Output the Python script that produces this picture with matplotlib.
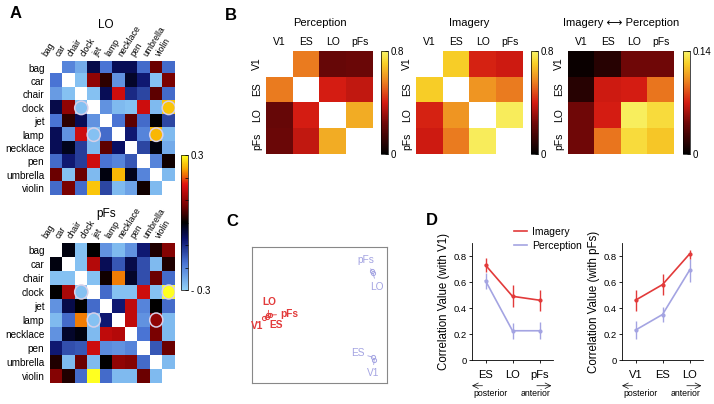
import numpy as np
import matplotlib
matplotlib.use("Agg")
import matplotlib.pyplot as plt
from matplotlib.colors import LinearSegmentedColormap
from matplotlib.patches import Ellipse
from matplotlib.lines import Line2D

plt.rcParams['font.family'] = ['Liberation Sans', 'DejaVu Sans']

# --- data ---
objects = ["bag", "car", "chair", "clock", "jet", "lamp", "necklace", "pen", "umbrella", "violin"]

lo_corr = np.array([
    [np.nan, -0.20, -0.25, -0.05, -0.18, -0.06, -0.06, -0.17, 0.07, -0.17],
    [-0.18, np.nan, -0.28, 0.10, 0.03, -0.22, -0.03, -0.08, -0.28, 0.08],
    [-0.23, -0.28, np.nan, -0.28, -0.06, 0.15, -0.10, -0.13, 0.06, -0.17],
    [-0.05, 0.10, -0.28, np.nan, -0.22, -0.27, -0.28, 0.15, -0.27, 0.26],
    [-0.18, 0.03, -0.06, -0.22, np.nan, -0.18, 0.06, -0.17, 0.00, -0.13],
    [-0.06, -0.22, 0.15, -0.28, -0.17, np.nan, -0.08, -0.20, 0.25, -0.27],
    [-0.06, -0.02, -0.12, -0.27, 0.06, -0.07, np.nan, -0.13, -0.01, -0.25],
    [-0.17, -0.08, -0.12, 0.15, -0.18, -0.20, -0.15, np.nan, -0.20, 0.01],
    [0.07, -0.28, 0.07, -0.27, -0.01, 0.25, -0.02, -0.20, np.nan, -0.27],
    [-0.17, 0.08, -0.17, 0.26, -0.13, -0.27, -0.24, 0.01, -0.27, np.nan],
])

pfs_corr = np.array([
    [np.nan, -0.01, -0.28, 0.00, -0.22, -0.27, -0.22, -0.08, 0.02, 0.09],
    [-0.01, np.nan, -0.28, 0.13, -0.06, -0.15, -0.05, -0.14, -0.27, 0.02],
    [-0.28, -0.28, np.nan, -0.28, 0.01, 0.22, -0.03, -0.14, 0.07, -0.17],
    [0.00, 0.12, -0.28, np.nan, -0.17, -0.28, -0.28, 0.15, -0.28, 0.30],
    [-0.22, -0.05, 0.00, -0.17, np.nan, -0.08, 0.14, -0.20, 0.00, -0.17],
    [-0.27, -0.17, 0.22, -0.28, -0.08, np.nan, 0.14, -0.22, 0.10, -0.27],
    [-0.22, -0.03, -0.01, -0.27, 0.14, 0.13, np.nan, -0.18, 0.08, -0.27],
    [-0.08, -0.14, -0.15, 0.15, -0.21, -0.22, -0.20, np.nan, -0.15, 0.07],
    [0.02, -0.27, 0.07, -0.27, 0.00, 0.10, 0.09, -0.17, np.nan, -0.27],
    [0.09, 0.02, -0.17, 0.30, -0.17, -0.27, -0.27, 0.07, -0.27, np.nan],
])

# circled cells (row, column)
circled = [("clock", "chair"), ("clock", "violin"), ("lamp", "clock"), ("lamp", "umbrella")]

rois = ["V1", "ES", "LO", "pFs"]
perception_mat = np.array([
    [np.nan, 0.55, 0.22, 0.23],
    [0.55, np.nan, 0.40, 0.37],
    [0.22, 0.40, np.nan, 0.64],
    [0.23, 0.37, 0.64, np.nan],
])
imagery_mat = np.array([
    [np.nan, 0.70, 0.41, 0.39],
    [0.70, np.nan, 0.60, 0.55],
    [0.41, 0.60, np.nan, 0.78],
    [0.39, 0.55, 0.78, np.nan],
])
cross_mat = np.array([
    [0.004, 0.015, 0.042, 0.042],
    [0.015, 0.068, 0.07, 0.095],
    [0.042, 0.07, 0.137, 0.128],
    [0.042, 0.095, 0.128, 0.12],
])

# MDS coordinates (panel C), order V1, ES, LO, pFs
mds_img_x = [0.09, 0.11, 0.12, 0.135]
mds_img_y = [0.478, 0.485, 0.50, 0.50]
mds_per_x = [0.905, 0.895, 0.895, 0.888]
mds_per_y = [0.17, 0.19, 0.81, 0.825]

# panel D
d1_labels = ["ES", "LO", "pFs"]
d1_img = [0.73, 0.49, 0.46]
d1_img_err = [0.055, 0.085, 0.082]
d1_per = [0.61, 0.225, 0.225]
d1_per_err = [0.06, 0.062, 0.065]

d2_labels = ["V1", "ES", "LO"]
d2_img = [0.46, 0.58, 0.815]
d2_img_err = [0.08, 0.08, 0.035]
d2_per = [0.23, 0.35, 0.69]
d2_per_err = [0.07, 0.06, 0.09]

red = "#e23a3a"
lav = "#a4a4e2"

cmap_a = LinearSegmentedColormap.from_list("bk", [
    (0.0, "#90d0f8"), (0.2, "#4a74d4"), (0.38, "#0a1068"), (0.5, "#000000"),
    (0.62, "#700000"), (0.78, "#e01010"), (0.9, "#f8a800"), (1.0, "#ffff20")])
cmap_b = LinearSegmentedColormap.from_list("hotish", [
    (0.0, "#000000"), (0.3, "#700808"), (0.5, "#d41c12"), (0.7, "#ec8020"),
    (0.88, "#f8d028"), (1.0, "#f8f468")])

W, H = 714, 404
fig = plt.figure(figsize=(W / 100, H / 100), dpi=100)


def px_axes(x0, y0, x1, y1):
    return fig.add_axes([x0 / W, 1 - y1 / H, (x1 - x0) / W, (y1 - y0) / H])


def ftext(x, y, s, **kw):
    fig.text(x / W, 1 - y / H, s, **kw)


# --- Panel A ---
ftext(16, 13, "A", fontsize=12, fontweight="bold", ha="center", va="center")
for mat, title, box, ty in [(lo_corr, "LO", (50, 61, 175, 195), 25),
                            (pfs_corr, "pFs", (50, 243, 175, 383), 214)]:
    ax = px_axes(*box)
    im = ax.imshow(mat, cmap=cmap_a, vmin=-0.3, vmax=0.3, aspect="auto")
    ax.set_yticks(range(len(objects)))
    ax.set_yticklabels(objects, fontsize=7.2)
    ax.set_xticks([])
    ax.tick_params(length=0, pad=4)
    for j, name in enumerate(objects):
        ax.text(j - 0.6, -0.7, name, rotation=58, ha="left", va="bottom",
                rotation_mode="anchor", fontsize=6.3)
    for s in ax.spines.values():
        s.set_visible(False)
    for r, c in circled:
        ax.add_patch(Ellipse((objects.index(c), objects.index(r)), 1.05, 1.0,
                             fill=False, ec="#d6cfe8", lw=1.1))
    ftext(106, ty, title, fontsize=8.5, ha="center", va="center")

cax = px_axes(181, 155, 188, 290)
cb = fig.colorbar(im, cax=cax, ticks=np.linspace(-0.3, 0.3, 7))
cb.ax.set_yticklabels(["- 0.3", "", "", "", "", "", "0.3"], fontsize=7)
cb.ax.tick_params(length=2, width=0.5, direction="in", pad=2)
cb.outline.set_linewidth(0.5)

# --- Panel B ---
ftext(231, 15, "B", fontsize=12, fontweight="bold", ha="center", va="center")
b_specs = [
    (perception_mat, "Perception", 0.8, (266, 373), (381, 388)),
    (imagery_mat, "Imagery", 0.8, (416, 523), (531, 538)),
    (cross_mat, "Imagery \u27f7 Perception", 0.14, (568, 674), (683, 690)),
]
for mat, title, vmax, (x0, x1), (c0, c1) in b_specs:
    ax = px_axes(x0, 51, x1, 154)
    im = ax.imshow(mat, cmap=cmap_b, vmin=0, vmax=vmax, aspect="auto")
    ax.xaxis.tick_top()
    ax.set_xticks(range(4))
    ax.set_xticklabels(rois, fontsize=7.5)
    ax.set_yticks(range(4))
    ax.set_yticklabels(rois, fontsize=7.5, rotation=90, va="center")
    ax.tick_params(length=0, pad=3)
    for s in ax.spines.values():
        s.set_visible(False)
    ftext((x0 + x1) / 2, 23, title, fontsize=8, ha="center", va="center")
    cax = px_axes(c0, 51, c1, 154)
    cb = fig.colorbar(im, cax=cax, ticks=[0, vmax])
    cb.ax.set_yticklabels(["0", f"{vmax:g}"], fontsize=7)
    cb.ax.tick_params(length=2, width=0.5, direction="in", pad=2)
    cb.outline.set_linewidth(0.5)

# --- Panel C ---
ftext(232, 221, "C", fontsize=12, fontweight="bold", ha="center", va="center")
axc = px_axes(252, 247, 387, 383)
axc.set_xlim(0, 1)
axc.set_ylim(0, 1)
axc.set_xticks([])
axc.set_yticks([])
for s in axc.spines.values():
    s.set_color("#888888")
    s.set_linewidth(0.8)

# label offsets in points, order V1, ES, LO, pFs
img_offsets = [(-5, -6), (7, -5.5), (0.5, 9.5), (13.5, 0.5)]
per_offsets = [(-1, -9.5), (-11, 3), (3, -10), (-4.5, 7.5)]
for xs, ys, offs, col, wt in [(mds_img_x, mds_img_y, img_offsets, red, "bold"),
                              (mds_per_x, mds_per_y, per_offsets, lav, "normal")]:
    axc.plot(xs, ys, "o", ms=3, mfc="none", mec=col, mew=0.7, ls="none")
    for name, x, y, (dx, dy) in zip(rois, xs, ys, offs):
        axc.annotate(name, (x, y), xytext=(dx, dy), textcoords="offset points",
                     fontsize=7.3, color=col, ha="center", va="center",
                     fontweight=wt,
                     arrowprops=dict(arrowstyle="-", color=col, lw=0.6,
                                     shrinkA=0.5, shrinkB=0))

# --- Panel D ---
ftext(432, 220, "D", fontsize=12, fontweight="bold", ha="center", va="center")
for x0, labels, img, img_err, per, per_err, ylab in [
        (472, d1_labels, d1_img, d1_img_err, d1_per, d1_per_err, "Correlation Value (with V1)"),
        (622, d2_labels, d2_img, d2_img_err, d2_per, d2_per_err, "Correlation Value (with pFs)")]:
    ax = px_axes(x0, 243, x0 + 81, 360)
    xs = np.arange(1, 4)
    ax.errorbar(xs, per, yerr=per_err, color=lav, lw=1.2, elinewidth=1.0,
                marker="o", ms=2, capsize=0)
    ax.errorbar(xs, img, yerr=img_err, color=red, lw=1.2, elinewidth=1.0,
                marker="o", ms=2, capsize=0)
    ax.set_xlim(0.5, 3.5)
    ax.set_ylim(0, 0.9)
    ax.set_yticks([0, 0.2, 0.4, 0.6, 0.8])
    ax.set_yticklabels(["0", "0.2", "0.4", "0.6", "0.8"], fontsize=6.8)
    ax.set_xticks(xs)
    ax.set_xticklabels(labels, fontsize=8)
    ax.set_ylabel(ylab, fontsize=8.3, labelpad=2)
    ax.tick_params(length=2, width=0.6, pad=2)
    ax.tick_params(axis="x", pad=5)
    for s in ["top", "right"]:
        ax.spines[s].set_visible(False)
    for s in ["left", "bottom"]:
        ax.spines[s].set_linewidth(0.6)
    # posterior / anterior arrows
    ax.annotate("", xy=(0.0, -0.22), xytext=(0.13, -0.22), xycoords="axes fraction",
                arrowprops=dict(arrowstyle="->", lw=0.5, shrinkA=0, shrinkB=0))
    ax.annotate("", xy=(0.98, -0.22), xytext=(0.8, -0.22), xycoords="axes fraction",
                arrowprops=dict(arrowstyle="->", lw=0.5, shrinkA=0, shrinkB=0))
    ax.text(0.02, -0.29, "posterior", transform=ax.transAxes, fontsize=6.3,
            ha="left", va="center")
    ax.text(0.97, -0.29, "anterior", transform=ax.transAxes, fontsize=6.3,
            ha="right", va="center")

handles = [Line2D([], [], color=red, lw=1.2), Line2D([], [], color=lav, lw=1.2)]
fig.legend(handles, ["Imagery", "Perception"], loc="upper left",
           bbox_to_anchor=(514 / W, 1 - 227 / H), frameon=False, fontsize=7.5,
           handlelength=1.2, handletextpad=0.5, labelspacing=0.35,
           borderpad=0, borderaxespad=0)

fig.savefig("out.png", dpi=100)
